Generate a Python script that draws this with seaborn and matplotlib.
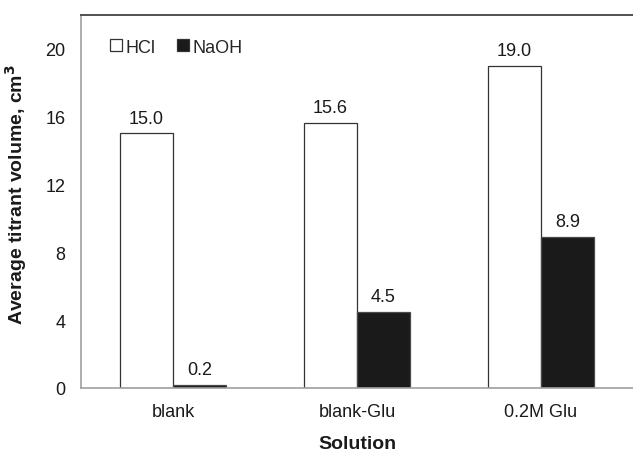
import pandas as pd
import matplotlib.pyplot as plt
import seaborn as sns

# values
solutions = ['blank', 'blank-Glu', '0.2M Glu']
hcl = [15.0, 15.6, 19.0]
naoh = [0.2, 4.5, 8.9]
reagents = ['HCl', 'NaOH']

df = pd.DataFrame({
    'Solution': solutions * 2,
    'Reagent': ['HCl'] * 3 + ['NaOH'] * 3,
    'Volume': hcl + naoh,
})

sns.set_style('white')
plt.rcParams['font.family'] = ['Liberation Sans', 'DejaVu Sans']

fig = plt.figure(figsize=(6.33, 4.52), dpi=100)
ax = fig.add_axes([81/633, 63/452, 552/633, 373.3/452])

sns.barplot(data=df, x='Solution', y='Volume', hue='Reagent', hue_order=reagents,
            palette={'HCl': 'white', 'NaOH': '#1a1a1a'}, width=0.576,
            edgecolor='#333333', linewidth=0.9, saturation=1, ax=ax)

for cont in ax.containers:
    for p in cont:
        if p.get_facecolor()[0] < 0.5:
            p.set_edgecolor('#4a4a4a')
    ax.bar_label(cont, fmt='%.1f', padding=5, fontsize=13, color='#1a1a1a')

ax.set_ylim(0, 22)
ax.set_yticks([0, 4, 8, 12, 16, 20])
ax.set_xlim(-0.5, 2.5)

# group boundaries as tick marks, names as minor ticks without marks
ax.set_xticks([-0.5, 0.5, 1.5, 2.5])
ax.set_xticklabels([])
ax.set_xticks([0, 1, 2], minor=True)
ax.set_xticklabels(solutions, minor=True)
ax.tick_params(axis='x', which='major', length=5, width=1, color='#a0a0a0', direction='out')
ax.tick_params(axis='x', which='minor', length=0, pad=11, labelsize=13, labelcolor='#1a1a1a')
ax.tick_params(axis='y', length=5, width=1, color='#a0a0a0', direction='out', pad=6,
               labelsize=13, labelcolor='#1a1a1a')

for side in ['left', 'bottom']:
    ax.spines[side].set_color('#a0a0a0')
    ax.spines[side].set_linewidth(1.2)
ax.spines['top'].set_color('#333333')
ax.spines['top'].set_linewidth(1.2)
ax.spines['right'].set_visible(False)

ax.set_xlabel('Solution', fontsize=14, fontweight='bold', color='#1a1a1a')
ax.set_ylabel('Average titrant volume, cm$^\\mathbf{3}$', fontsize=14, fontweight='bold', color='#1a1a1a')
ax.xaxis.set_label_coords(0.5, -0.125)
ax.yaxis.set_label_coords(-0.095, 0.52)

ax.legend(loc='upper left', bbox_to_anchor=(0.04, 0.955), ncol=2, frameon=False,
          fontsize=13, handlelength=0.65, handleheight=0.65, handletextpad=0.2,
          columnspacing=1.2, borderaxespad=0)

plt.savefig('out.png', dpi=100)
